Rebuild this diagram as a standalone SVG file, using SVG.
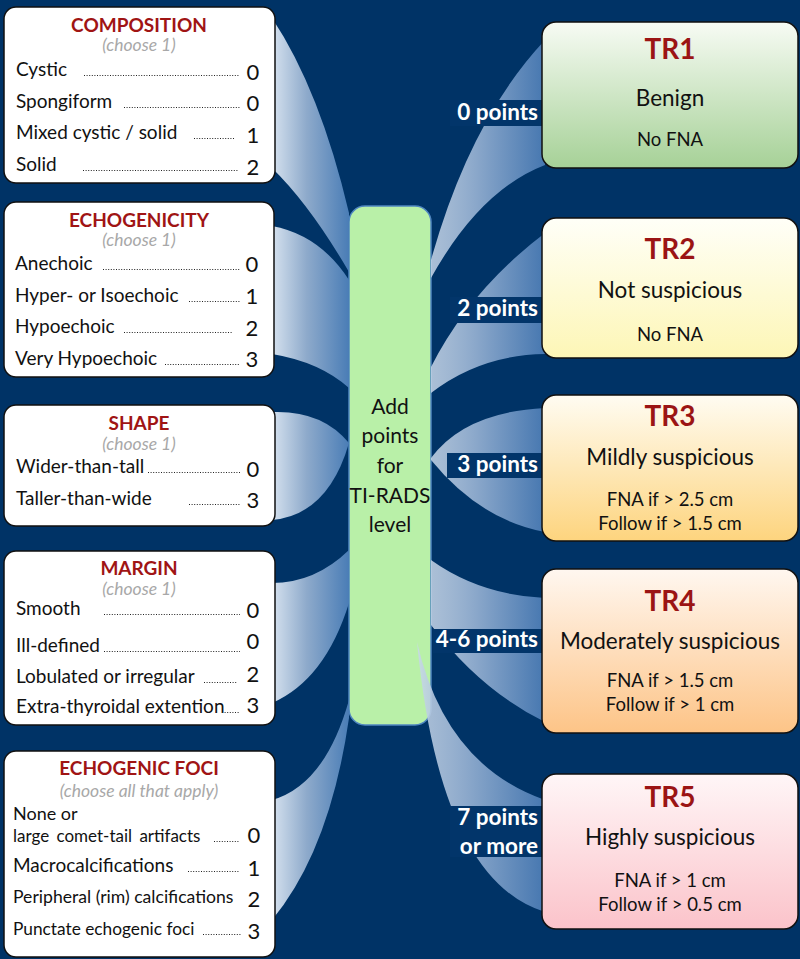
<svg xmlns="http://www.w3.org/2000/svg" width="800" height="959" viewBox="0 0 800 959">
<defs>
<linearGradient id="gL" x1="0" y1="0" x2="1" y2="0">
<stop offset="0" stop-color="#d6e2ef"/>
<stop offset="0.45" stop-color="#8eaacb"/>
<stop offset="1" stop-color="#4a7db6"/>
</linearGradient>
<linearGradient id="gR" x1="0" y1="0" x2="1" y2="0">
<stop offset="0" stop-color="#c9d8ea" stop-opacity="0.85"/>
<stop offset="0.4" stop-color="#8aa7ca"/>
<stop offset="1" stop-color="#4677b0"/>
</linearGradient>
<linearGradient id="g1" x1="0" y1="0" x2="0" y2="1"><stop offset="0" stop-color="#f7fbf4"/><stop offset="1" stop-color="#a6d197"/></linearGradient>
<linearGradient id="g2" x1="0" y1="0" x2="0" y2="1"><stop offset="0" stop-color="#fffff8"/><stop offset="1" stop-color="#fdf6b6"/></linearGradient>
<linearGradient id="g3" x1="0" y1="0" x2="0" y2="1"><stop offset="0" stop-color="#fffcf2"/><stop offset="1" stop-color="#fdd47e"/></linearGradient>
<linearGradient id="g4" x1="0" y1="0" x2="0" y2="1"><stop offset="0" stop-color="#fff7f0"/><stop offset="1" stop-color="#fdc487"/></linearGradient>
<linearGradient id="g5" x1="0" y1="0" x2="0" y2="1"><stop offset="0" stop-color="#fff6f7"/><stop offset="1" stop-color="#fbc3ca"/></linearGradient>
</defs>
<style>
text{font-family:Lato,"Open Sans","Liberation Sans",sans-serif;}
.box{fill:#fff;stroke:#111;stroke-width:1.5;}
.tr{stroke:#111;stroke-width:1.5;}
.ttl{font-size:19px;font-weight:bold;fill:#a01414;text-anchor:middle;}
.ch{font-size:17.5px;font-style:italic;fill:#a8a8a8;text-anchor:middle;}
.lb{font-size:19px;fill:#111;}
.num{font-size:22px;fill:#111;text-anchor:middle;}
.dot{stroke:#222;stroke-width:1.2;stroke-dasharray:1 1.6;fill:none;}
.bl{fill:url(#gL);}
.br{fill:url(#gR);}
.pr{fill:#02356a;}
.pt{font-size:22.5px;font-weight:bold;fill:#fff;text-anchor:end;}
.ctr{font-size:21px;fill:#111;text-anchor:middle;}
.trt{font-size:28px;font-weight:bold;fill:#9b1414;text-anchor:middle;}
.trs{font-size:22.5px;fill:#111;text-anchor:middle;}
.trf{font-size:18.5px;fill:#111;text-anchor:middle;}
</style>
<rect x="0" y="0" width="800" height="959" fill="#003366"/>

<g id="center">
<rect x="349" y="206" width="82" height="519" rx="16" fill="#b9f0a8" stroke="#4f86c0" stroke-width="1.5"/>
<text class="ctr" x="390" y="414">Add</text>
<text class="ctr" x="390" y="443">points</text>
<text class="ctr" x="390" y="473">for</text>
<text class="ctr" x="390" y="503">TI-RADS</text>
<text class="ctr" x="390" y="532">level</text>
</g>

<g id="connectors">
<path class="bl" d="M272,18 Q320,90 349,213 L349,272 Q310,205 272,168 Z"/>
<path class="bl" d="M272,226 Q320,235 349,280 L349,388 Q320,362 272,354 Z"/>
<path class="bl" d="M272,412 Q322,410 349,443 Q328,515 272,520 Z"/>
<path class="bl" d="M272,583 Q315,583 349,550 L349,603 Q325,680 272,703 Z"/>
<path class="bl" d="M272,800 Q325,785 349,700 L349,718 Q330,850 272,920 Z"/>
<path class="br" d="M431,260 Q470,120 545,40 L545,165 Q480,190 431,278 Z"/>
<path class="br" d="M431,367 Q470,290 545,233 L545,354 Q480,355 431,393 Z"/>
<path class="br" d="M431,458 Q465,412 545,408 L545,532 Q480,520 431,460 Z"/>
<path class="br" d="M431,560 Q480,595 545,598 L545,722 Q480,690 431,625 Z"/>
<path class="br" d="M417,642 Q445,765 545,800 L545,912 Q440,880 417,642 Z"/>
<rect class="pr" x="450" y="100" width="92" height="26"/>
<text class="pt" x="538" y="120">0 points</text>
<rect class="pr" x="450" y="297" width="92" height="26"/>
<text class="pt" x="538" y="316">2 points</text>
<rect class="pr" x="447" y="453" width="95" height="25"/>
<text class="pt" x="538" y="472">3 points</text>
<rect class="pr" x="433" y="629" width="109" height="24"/>
<text class="pt" x="538" y="647">4-6 points</text>
<rect class="pr" x="450" y="806" width="92" height="51"/>
<text class="pt" x="538" y="825">7 points</text>
<text class="pt" x="538" y="854">or more</text>
</g>

<g id="composition">
<rect class="box" x="4" y="7" width="271" height="176" rx="12"/>
<text class="ttl" x="139" y="32">COMPOSITION</text>
<text class="ch" x="139" y="51">(choose 1)</text>
<text class="lb" x="16" y="76">Cystic</text>
<line class="dot" x1="84" y1="75.5" x2="240" y2="75.5"/>
<text class="num" x="253" y="80">0</text>
<text class="lb" x="16" y="108">Spongiform</text>
<line class="dot" x1="124" y1="107.5" x2="240" y2="107.5"/>
<text class="num" x="253" y="111">0</text>
<text class="lb" x="16" y="139">Mixed cystic / solid</text>
<line class="dot" x1="194" y1="138.5" x2="234" y2="138.5"/>
<text class="num" x="253" y="143">1</text>
<text class="lb" x="16" y="171">Solid</text>
<line class="dot" x1="83" y1="170.5" x2="238" y2="170.5"/>
<text class="num" x="253" y="175">2</text>
</g>

<g id="echogenicity">
<rect class="box" x="4" y="202" width="270" height="175" rx="12"/>
<text class="ttl" x="139" y="227">ECHOGENICITY</text>
<text class="ch" x="139" y="246">(choose 1)</text>
<text class="lb" x="15" y="270">Anechoic</text>
<line class="dot" x1="103" y1="269.5" x2="240" y2="269.5"/>
<text class="num" x="252" y="272">0</text>
<text class="lb" x="15" y="302">Hyper- or Isoechoic</text>
<line class="dot" x1="189" y1="301.5" x2="240" y2="301.5"/>
<text class="num" x="252" y="304">1</text>
<text class="lb" x="15" y="333">Hypoechoic</text>
<line class="dot" x1="124" y1="332.5" x2="233" y2="332.5"/>
<text class="num" x="252" y="336">2</text>
<text class="lb" x="15" y="365">Very Hypoechoic</text>
<line class="dot" x1="165" y1="364.5" x2="240" y2="364.5"/>
<text class="num" x="252" y="367">3</text>
</g>

<g id="shape">
<rect class="box" x="4" y="405" width="271" height="121" rx="12"/>
<text class="ttl" x="139" y="430">SHAPE</text>
<text class="ch" x="139" y="450">(choose 1)</text>
<text class="lb" x="16" y="473">Wider-than-tall</text>
<line class="dot" x1="148" y1="472.5" x2="240" y2="472.5"/>
<text class="num" x="253" y="477">0</text>
<text class="lb" x="16" y="505">Taller-than-wide</text>
<line class="dot" x1="189" y1="504.5" x2="240" y2="504.5"/>
<text class="num" x="253" y="508">3</text>
</g>

<g id="margin">
<rect class="box" x="4" y="551" width="271" height="174" rx="12"/>
<text class="ttl" x="139" y="575">MARGIN</text>
<text class="ch" x="139" y="595">(choose 1)</text>
<text class="lb" x="16" y="615">Smooth</text>
<line class="dot" x1="104" y1="614.5" x2="240" y2="614.5"/>
<text class="num" x="253" y="618">0</text>
<text class="lb" x="16" y="652">Ill-defined</text>
<line class="dot" x1="104" y1="651.5" x2="240" y2="651.5"/>
<text class="num" x="253" y="649">0</text>
<text class="lb" x="16" y="683">Lobulated or irregular</text>
<line class="dot" x1="204" y1="682.5" x2="237" y2="682.5"/>
<text class="num" x="253" y="682">2</text>
<text class="lb" x="16" y="713">Extra-thyroidal extention</text>
<line class="dot" x1="222" y1="712.5" x2="240" y2="712.5"/>
<text class="num" x="253" y="713">3</text>
</g>

<g id="echogenic-foci">
<rect class="box" x="4" y="751" width="271" height="206" rx="12"/>
<text class="ttl" x="139" y="775">ECHOGENIC FOCI</text>
<text class="ch" x="139" y="797">(choose all that apply)</text>
<text class="lb" x="13" y="820" style="font-size:18px">None or</text>
<text class="lb" x="13" y="842" style="font-size:17px;word-spacing:3px">large comet-tail artifacts</text>
<line class="dot" x1="214" y1="841.5" x2="240" y2="841.5"/>
<text class="num" x="254" y="843">0</text>
<text class="lb" x="13" y="872">Macrocalcifications</text>
<line class="dot" x1="188" y1="871.5" x2="240" y2="871.5"/>
<text class="num" x="254" y="876">1</text>
<text class="lb" x="13" y="903" style="font-size:17.6px">Peripheral (rim) calcifications</text>
<text class="num" x="254" y="907">2</text>
<text class="lb" x="13" y="935" style="font-size:17.3px">Punctate echogenic foci</text>
<line class="dot" x1="203" y1="934.5" x2="241" y2="934.5"/>
<text class="num" x="254" y="939">3</text>
</g>

<g id="tr1">
<rect class="tr" x="542" y="22" width="256" height="146" rx="14" fill="url(#g1)"/>
<text class="trt" x="670" y="59">TR1</text>
<text class="trs" x="670" y="106">Benign</text>
<text class="trf" x="670" y="146">No FNA</text>
</g>

<g id="tr2">
<rect class="tr" x="542" y="218" width="256" height="140" rx="14" fill="url(#g2)"/>
<text class="trt" x="670" y="259">TR2</text>
<text class="trs" x="670" y="298">Not suspicious</text>
<text class="trf" x="670" y="341">No FNA</text>
</g>

<g id="tr3">
<rect class="tr" x="542" y="395" width="256" height="146" rx="14" fill="url(#g3)"/>
<text class="trt" x="670" y="426">TR3</text>
<text class="trs" x="670" y="465">Mildly suspicious</text>
<text class="trf" x="670" y="506">FNA if &gt; 2.5 cm</text>
<text class="trf" x="670" y="530">Follow if &gt; 1.5 cm</text>
</g>

<g id="tr4">
<rect class="tr" x="542" y="569" width="256" height="164" rx="14" fill="url(#g4)"/>
<text class="trt" x="670" y="611">TR4</text>
<text class="trs" x="670" y="649">Moderately suspicious</text>
<text class="trf" x="670" y="687">FNA if &gt; 1.5 cm</text>
<text class="trf" x="670" y="711">Follow if &gt; 1 cm</text>
</g>

<g id="tr5">
<rect class="tr" x="542" y="774" width="256" height="155" rx="14" fill="url(#g5)"/>
<text class="trt" x="670" y="807">TR5</text>
<text class="trs" x="670" y="845">Highly suspicious</text>
<text class="trf" x="670" y="887">FNA if &gt; 1 cm</text>
<text class="trf" x="670" y="911">Follow if &gt; 0.5 cm</text>
</g>
</svg>
